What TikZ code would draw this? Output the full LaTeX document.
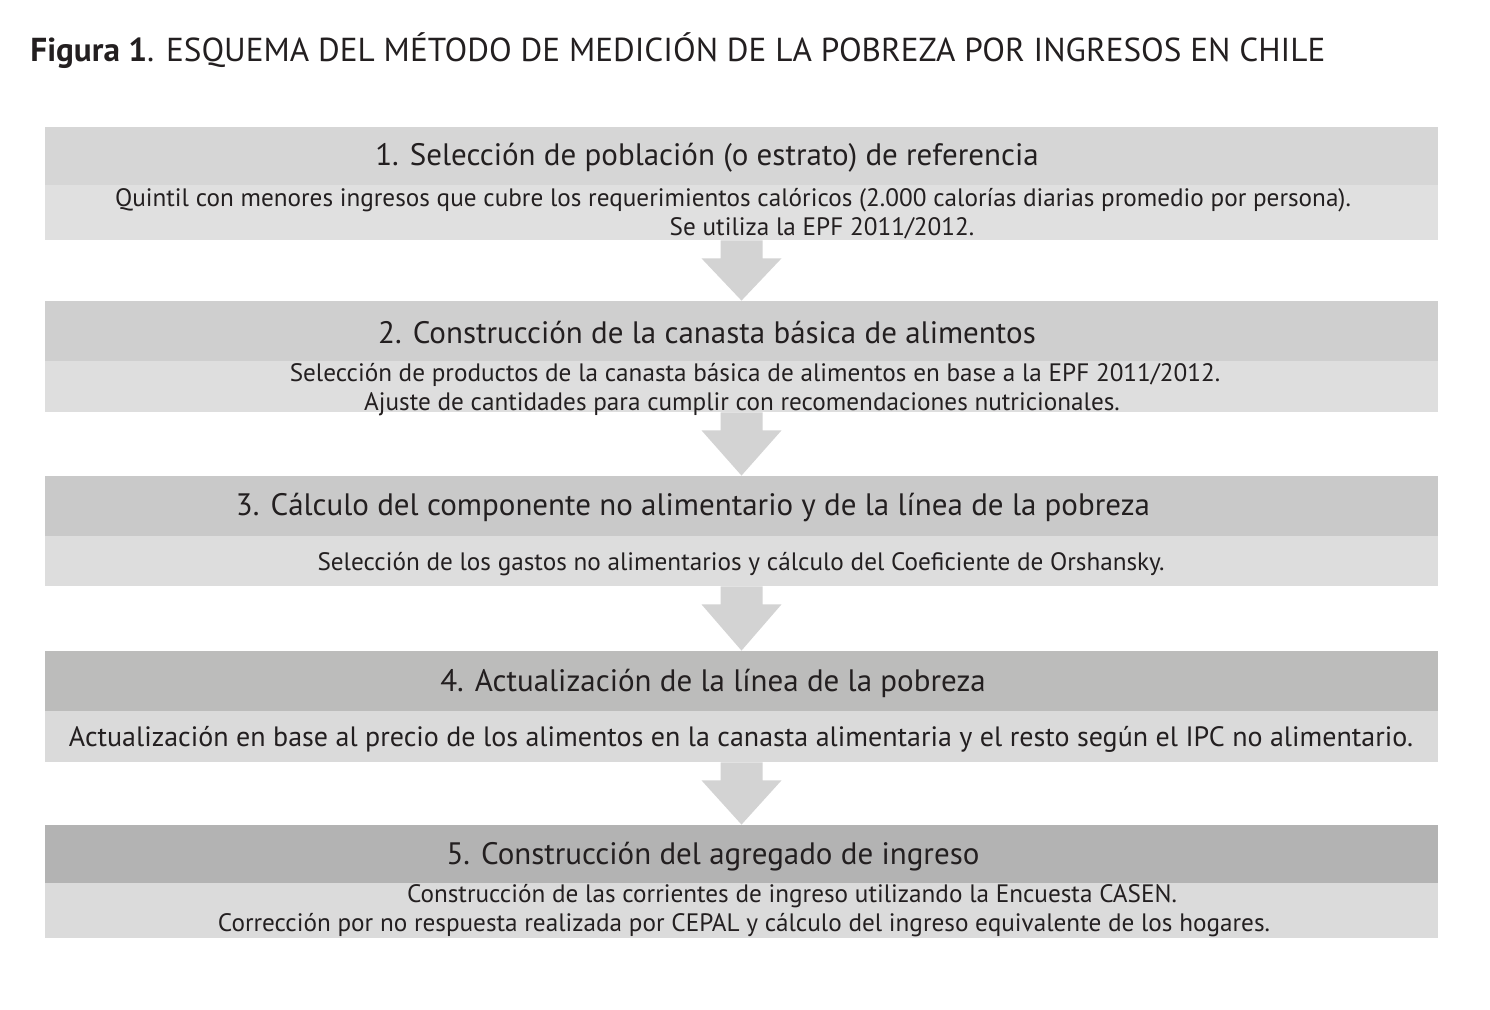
\documentclass[tikz,border=0pt]{standalone}
\usepackage{fontspec}
\setmainfont{PT Sans}
\usepackage{xcolor}
\usetikzlibrary{calc}

\definecolor{cabA}{HTML}{D6D6D6}
\definecolor{cabB}{HTML}{CFCFCF}
\definecolor{cabC}{HTML}{C9C9C9}
\definecolor{cabD}{HTML}{BCBCBB}
\definecolor{cabE}{HTML}{B3B3B3}
\definecolor{cpoA}{HTML}{E0E0E0}
\definecolor{cpoB}{HTML}{DEDEDE}
\definecolor{cpoC}{HTML}{DDDDDD}
\definecolor{cpoD}{HTML}{DADADA}
\definecolor{cpoE}{HTML}{DBDBDB}
\definecolor{flechagris}{HTML}{D3D3D3}
\definecolor{letra}{HTML}{231F20}

\begin{document}
\begin{tikzpicture}[x=0.5pt,y=-0.5pt,
    caja/.style={rectangle, inner sep=0pt, minimum width=696.5pt},
    cabtxt/.style={text=letra, font=\fontsize{15.5}{18}\selectfont},
    cpotxt/.style={text=letra, font=\fontsize{12.6}{15}\selectfont},
    flecha/.style={fill=flechagris}]
        \useasboundingbox (0,0) rectangle (1490,1010);
        % Titulo
        \node[anchor=base west, inner sep=0pt, text=letra, font=\fontsize{16.6}{20}\selectfont] (titulo) at (30,62)
            {\textbf{Figura 1}. ESQUEMA DEL MÉTODO DE MEDICIÓN DE LA POBREZA POR INGRESOS EN CHILE};
        % Cajas
        \node[caja, fill=cabA, minimum height=29pt] (c1) at (741.5,156) {};
        \node[caja, fill=cpoA, minimum height=27.5pt] (p1) at (741.5,212.5) {};
        \node[caja, fill=cabB, minimum height=30pt] (c2) at (741.5,331) {};
        \node[caja, fill=cpoB, minimum height=25.5pt] (p2) at (741.5,386.5) {};
        \node[caja, fill=cabC, minimum height=30pt] (c3) at (741.5,506) {};
        \node[caja, fill=cpoC, minimum height=25pt] (p3) at (741.5,561) {};
        \node[caja, fill=cabD, minimum height=30pt] (c4) at (741.5,681) {};
        \node[caja, fill=cpoD, minimum height=25.5pt] (p4) at (741.5,736.5) {};
        \node[caja, fill=cabE, minimum height=29pt] (c5) at (741.5,854) {};
        \node[caja, fill=cpoE, minimum height=27.5pt] (p5) at (741.5,910.5) {};
        % Flechas
        \foreach \a/\b in {p1/c2, p2/c3, p3/c4, p4/c5}
            \fill[flecha] ($(\a.south)+(-21,0)$) -- ($(\a.south)+(-21,18)$) -- ($(\a.south)+(-40,18)$)
                -- (\b.north) -- ($(\a.south)+(40,18)$) -- ($(\a.south)+(21,18)$) -- ($(\a.south)+(21,0)$) -- cycle;
        % Textos
        \node[cabtxt] (t1) at (707,158) {1. Selección de población (o estrato) de referencia};
        \node[cpotxt] (q1) at (733,200) {Quintil con menores ingresos que cubre los requerimientos calóricos (2.000 calorías diarias promedio por persona).};
        \node[cpotxt] (r1) at (822,228) {Se utiliza la EPF 2011/2012.};
        \node[cabtxt] (t2) at (707,333) {2. Construcción de la canasta básica de alimentos};
        \node[cpotxt] (q2) at (755,375) {Selección de productos de la canasta básica de alimentos en base a la EPF 2011/2012.};
        \node[cpotxt] (r2) at (742,404) {Ajuste de cantidades para cumplir con recomendaciones nutricionales.};
        \node[cabtxt] (t3) at (693,508) {3. Cálculo del componente no alimentario y de la línea de la pobreza};
        \node[cpotxt] (q3) at (741,564) {Selección de los gastos no alimentarios y cálculo del Coeficiente de Orshansky.};
        \node[cabtxt] (t4) at (713,683) {4. Actualización de la línea de la pobreza};
        \node[cpotxt, font=\fontsize{14}{16}\selectfont] (q4) at (741,739) {Actualización en base al precio de los alimentos en la canasta alimentaria y el resto según el IPC no alimentario.};
        \node[cabtxt] (t5) at (713,857) {5. Construcción del agregado de ingreso};
        \node[cpotxt] (q5) at (792,896) {Construcción de las corrientes de ingreso utilizando la Encuesta CASEN.};
        \node[cpotxt] (r5) at (744,925) {Corrección por no respuesta realizada por CEPAL y cálculo del ingreso equivalente de los hogares.};
    \end{tikzpicture}
\end{document}
